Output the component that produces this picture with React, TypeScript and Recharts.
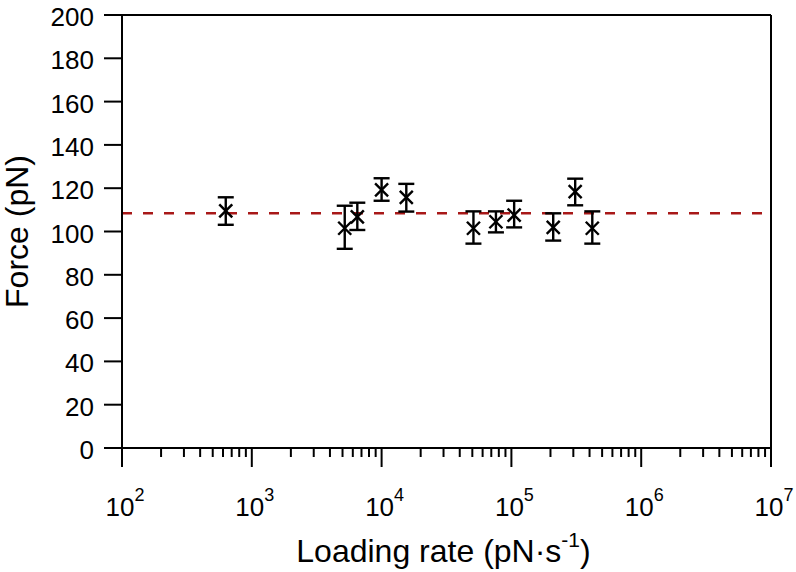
import React from 'react';
import { ScatterChart, Scatter, XAxis, YAxis, ErrorBar, ReferenceLine, Label } from 'recharts';

// Data
const loadingRates = [630, 5200, 6500, 10000, 15500, 51000, 76000, 105000, 210000, 310000, 420000];
const forces = [109.5, 101.5, 106.8, 119.2, 115.8, 101.5, 104.5, 107.6, 101.9, 118.4, 101.5];
const errLower = [6.4, 9.5, 6.1, 5.0, 6.6, 7.1, 4.9, 5.7, 6.1, 6.3, 7.1];
const errUpper = [6.3, 10.4, 6.5, 5.4, 6.2, 7.8, 4.8, 6.6, 6.5, 6.0, 7.8];
const meanForce = 108.4;

const decadeExponents = [2, 3, 4, 5, 6, 7];
const minorMultipliers = [2, 3, 4, 5, 6, 7, 8, 9];
const yTicks = [0, 20, 40, 60, 80, 100, 120, 140, 160, 180, 200];

const data = loadingRates.map((x, i) => ({
  x,
  y: forces[i],
  err: [errLower[i], errUpper[i]],
}));

const xTicks: number[] = [];
decadeExponents.forEach((e, i) => {
  xTicks.push(Math.pow(10, e));
  if (i < decadeExponents.length - 1) {
    minorMultipliers.forEach((m) => xTicks.push(m * Math.pow(10, e)));
  }
});

const FONT = '"Liberation Sans", Arial, sans-serif';

const XTick = (props: any) => {
  const { x, y, payload } = props;
  const v = payload.value;
  const lg = Math.log10(v);
  const isMajor = Math.abs(lg - Math.round(lg)) < 1e-6;
  return (
    <g>
      <line x1={x} y1={y} x2={x} y2={y + (isMajor ? 19 : 9)} stroke="#000" strokeWidth={2} />
      {isMajor && (
        <text x={x + 3} y={y + 68} textAnchor="middle" fill="#000" fontSize={26} fontFamily={FONT}>
          <tspan>10</tspan>
          <tspan dy={-15} fontSize={18}>{Math.round(lg)}</tspan>
        </text>
      )}
    </g>
  );
};

const YTick = (props: any) => {
  const { x, y, payload } = props;
  return (
    <text x={x + 2} y={y + 11} textAnchor="end" fill="#000" fontSize={26} fontFamily={FONT}>
      {payload.value}
    </text>
  );
};

const XTitle = (props: any) => {
  const vb = props.viewBox;
  const cx = vb.x + vb.width / 2;
  return (
    <text x={cx - 3} y={vb.y + 114} textAnchor="middle" fill="#000" fontSize={32} fontFamily={FONT}>
      <tspan>Loading rate (pN·s</tspan>
      <tspan dy={-15} fontSize={21}>-1</tspan>
      <tspan dy={15}>)</tspan>
    </text>
  );
};

const YTitle = (props: any) => {
  const vb = props.viewBox;
  const cy = vb.y + vb.height / 2;
  const cx = 28;
  return (
    <text x={cx} y={cy} textAnchor="middle" fill="#000" fontSize={32} fontFamily={FONT}
      transform={`rotate(-90, ${cx}, ${cy})`}>
      Force (pN)
    </text>
  );
};

const CrossMarker = (props: any) => {
  const { cx, cy } = props;
  const r = 6.5;
  return (
    <g>
      <line x1={cx - r} y1={cy - r} x2={cx + r} y2={cy + r} stroke="#000" strokeWidth={2.4} />
      <line x1={cx - r} y1={cy + r} x2={cx + r} y2={cy - r} stroke="#000" strokeWidth={2.4} />
    </g>
  );
};

export default function App() {
  return (
    <div style={{ position: 'absolute', left: 0, top: 0, background: '#fff' }}>
      <ScatterChart width={796} height={572} margin={{ top: 15, right: 25, bottom: 0, left: 0 }}>
        <XAxis
          dataKey="x"
          type="number"
          scale="log"
          domain={[100, 10000000]}
          ticks={xTicks}
          interval={0}
          allowDataOverflow
          height={124}
          tickSize={0}
          tickMargin={0}
          tickLine={false}
          axisLine={{ stroke: '#000', strokeWidth: 2 }}
          tick={<XTick />}
        >
          <Label content={<XTitle />} />
        </XAxis>
        <YAxis
          dataKey="y"
          type="number"
          domain={[0, 200]}
          ticks={yTicks}
          interval={0}
          width={122}
          tickSize={18}
          tickMargin={12}
          axisLine={{ stroke: '#000', strokeWidth: 2 }}
          tickLine={{ stroke: '#000', strokeWidth: 2 }}
          tick={<YTick />}
        >
          <Label content={<YTitle />} />
        </YAxis>
        <ReferenceLine y={200} stroke="#000" strokeWidth={2} />
        <ReferenceLine x={10000000} stroke="#000" strokeWidth={2} />
        <ReferenceLine y={meanForce} stroke="#a81818" strokeWidth={2.4} strokeDasharray="10 11" />
        <Scatter data={data} isAnimationActive={false} shape={<CrossMarker />}>
          <ErrorBar dataKey="err" direction="y" width={8} stroke="#000" strokeWidth={2.4} isAnimationActive={false} />
        </Scatter>
      </ScatterChart>
    </div>
  );
}
